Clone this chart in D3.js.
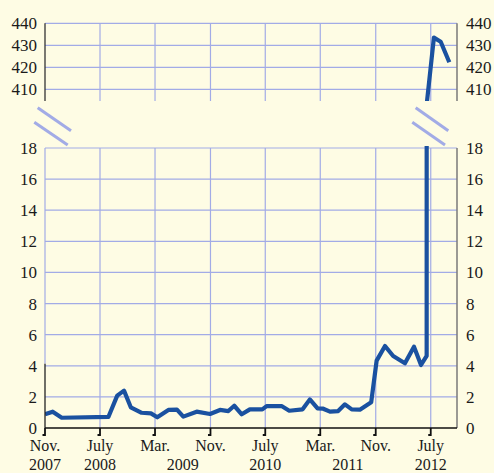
<!DOCTYPE html>
<html>
<head>
<meta charset="utf-8">
<script src="https://cdn.jsdelivr.net/npm/d3@7"></script>
<style>
  body { margin: 0; background: #fefce4; }
  svg { display: block; }
  text { font-family: "Liberation Serif", "DejaVu Serif", serif; font-size: 17px; fill: #1a1a1a; }
  text.bottom { font-size: 16px; }
</style>
</head>
<body>
<script>
// Chart data
var dates = ["2007-11-01", "2007-12-05", "2008-01-14", "2008-08-07", "2008-09-15", "2008-10-15",
             "2008-11-14", "2009-01-01", "2009-02-11", "2009-03-11", "2009-04-29", "2009-06-06",
             "2009-07-04", "2009-09-01", "2009-10-30", "2009-12-13", "2010-01-19", "2010-02-14",
             "2010-03-19", "2010-04-24", "2010-06-18", "2010-07-07", "2010-09-11", "2010-10-15",
             "2010-12-13", "2011-01-14", "2011-02-17", "2011-03-14", "2011-04-13", "2011-05-19",
             "2011-06-18", "2011-07-18", "2011-08-23", "2011-10-12", "2011-11-05", "2011-12-12",
             "2012-01-17", "2012-03-09", "2012-04-18", "2012-05-19", "2012-06-13", "2012-06-14",
             "2012-07-15", "2012-08-14", "2012-09-21"];
var values = [0.88, 1.05, 0.66, 0.71, 2.08, 2.4,
              1.33, 0.98, 0.94, 0.69, 1.16, 1.18,
              0.73, 1.05, 0.9, 1.16, 1.09, 1.43,
              0.88, 1.2, 1.2, 1.41, 1.41, 1.11,
              1.2, 1.84, 1.26, 1.24, 1.05, 1.09,
              1.52, 1.2, 1.18, 1.66, 4.33, 5.27,
              4.63, 4.16, 5.23, 4.05, 4.63, 404,
              433.5, 431.6, 422.3];

var tickDates = ["2007-11-01", "2008-07-01", "2009-03-01", "2009-11-01", "2010-07-01", "2011-03-01", "2011-11-01", "2012-07-01"];
var tickMonths = ["Nov.", "July", "Mar.", "Nov.", "July", "Mar.", "Nov.", "July"];
var yearDates = ["2007-11-01", "2008-07-01", "2009-07-01", "2010-07-01", "2011-07-01", "2012-07-01"];
var yearLabels = ["2007", "2008", "2009", "2010", "2011", "2012"];
var lowTicks = [0, 2, 4, 6, 8, 10, 12, 14, 16, 18];
var highTicks = [410, 420, 430, 440];

var svgWidth = 494, svgHeight = 473;
var left = 45, right = 457;
var low = { top: 148, bottom: 428 };
var high = { top: 23.3, bottom: 101 };

var parse = d3.timeParse("%Y-%m-%d");
var data = dates.map(function(d, i) { return { date: parse(d), value: values[i] }; });

var svg = d3.select("body").append("svg")
    .attr("width", svgWidth)
    .attr("height", svgHeight);

var x = d3.scaleTime()
    .domain([parse("2007-11-01"), parse("2012-10-25")])
    .range([left, right]);

var yLow = d3.scaleLinear().domain([0, 18]).range([low.bottom, low.top]);
var yHigh = d3.scaleLinear().domain([404.68, 440]).range([high.bottom, high.top]);

var gridColor = "#a2abe6";

function panel(name, y, box, ticks) {
    var g = svg.append("g");

    svg.append("clipPath").attr("id", "clip-" + name)
      .append("rect")
        .attr("x", left).attr("y", box.top - 2)
        .attr("width", right - left + 2).attr("height", box.bottom - box.top + 2);

    // grid
    g.selectAll(".hg").data(ticks.filter(function(t) { return y(t) < box.bottom - 1; }))
      .enter().append("line")
        .attr("x1", left).attr("x2", right)
        .attr("y1", function(d) { return y(d); })
        .attr("y2", function(d) { return y(d); })
        .attr("stroke", gridColor).attr("stroke-width", 1.2);

    g.selectAll(".vg").data(tickDates.slice(1))
      .enter().append("line")
        .attr("x1", function(d) { return x(parse(d)); })
        .attr("x2", function(d) { return x(parse(d)); })
        .attr("y1", box.top).attr("y2", box.bottom)
        .attr("stroke", gridColor).attr("stroke-width", 1.2);

    // right axis line
    g.append("line")
        .attr("x1", right).attr("x2", right)
        .attr("y1", box.top).attr("y2", box.bottom)
        .attr("stroke", "#7a7a7a").attr("stroke-width", 1.5);

    // labels
    g.selectAll(".ll").data(ticks)
      .enter().append("text")
        .attr("x", 37).attr("y", function(d) { return y(d) + 6; })
        .attr("text-anchor", "end")
        .text(function(d) { return d; });

    g.selectAll(".rl").data(ticks)
      .enter().append("text")
        .attr("x", 466).attr("y", function(d) { return y(d) + 6; })
        .text(function(d) { return d; });

    var line = d3.line()
        .x(function(d) { return x(d.date); })
        .y(function(d) { return y(d.value); });

    g.append("path")
        .datum(data)
        .attr("clip-path", "url(#clip-" + name + ")")
        .attr("fill", "none")
        .attr("stroke", "#1a51a0")
        .attr("stroke-width", 4.2)
        .attr("stroke-linejoin", "round")
        .attr("d", line);

    return g;
}

panel("high", yHigh, high, highTicks);
panel("low", yLow, low, lowTicks);

// left axis lines
svg.append("line")
    .attr("x1", left).attr("x2", left).attr("y1", high.top).attr("y2", high.bottom)
    .attr("stroke", "#333").attr("stroke-width", 1.3);
svg.append("line")
    .attr("x1", left).attr("x2", left).attr("y1", low.top).attr("y2", yLow(4) - 2)
    .attr("stroke", gridColor).attr("stroke-width", 1.2);
svg.append("line")
    .attr("x1", left).attr("x2", left).attr("y1", yLow(4) - 2).attr("y2", low.bottom)
    .attr("stroke", "#222").attr("stroke-width", 1.3);

// bottom axis
svg.append("line")
    .attr("x1", left).attr("x2", right).attr("y1", low.bottom).attr("y2", low.bottom)
    .attr("stroke", "#111").attr("stroke-width", 1.3);

svg.selectAll(".tick").data(tickDates)
  .enter().append("path")
    .attr("d", function(d) {
        var tx = x(parse(d));
        return "M" + tx + "," + low.bottom + "V" + (low.bottom + 7) + "H" + (tx - 2.5);
    })
    .attr("fill", "none")
    .attr("stroke", "#111")
    .attr("stroke-width", 1.8);

svg.selectAll(".month").data(tickDates)
  .enter().append("text")
    .attr("class", "bottom")
    .attr("x", function(d) { return x(parse(d)); })
    .attr("y", 451)
    .attr("text-anchor", "middle")
    .text(function(d, i) { return tickMonths[i]; });

svg.selectAll(".year").data(yearDates)
  .enter().append("text")
    .attr("class", "bottom")
    .attr("x", function(d) { return x(parse(d)); })
    .attr("y", 469.5)
    .attr("text-anchor", "middle")
    .text(function(d, i) { return yearLabels[i]; });

// axis break marks
var breaks = [[37.7, 107.7, 71, 130.7], [34.3, 122.3, 67.7, 145],
              [415.7, 107.7, 448.3, 130.7], [412.3, 122.3, 445, 145]];
svg.selectAll(".brk").data(breaks)
  .enter().append("line")
    .attr("x1", function(d) { return d[0]; })
    .attr("y1", function(d) { return d[1]; })
    .attr("x2", function(d) { return d[2]; })
    .attr("y2", function(d) { return d[3]; })
    .attr("stroke", "#a2abe6")
    .attr("stroke-width", 3);
</script>
</body>
</html>
